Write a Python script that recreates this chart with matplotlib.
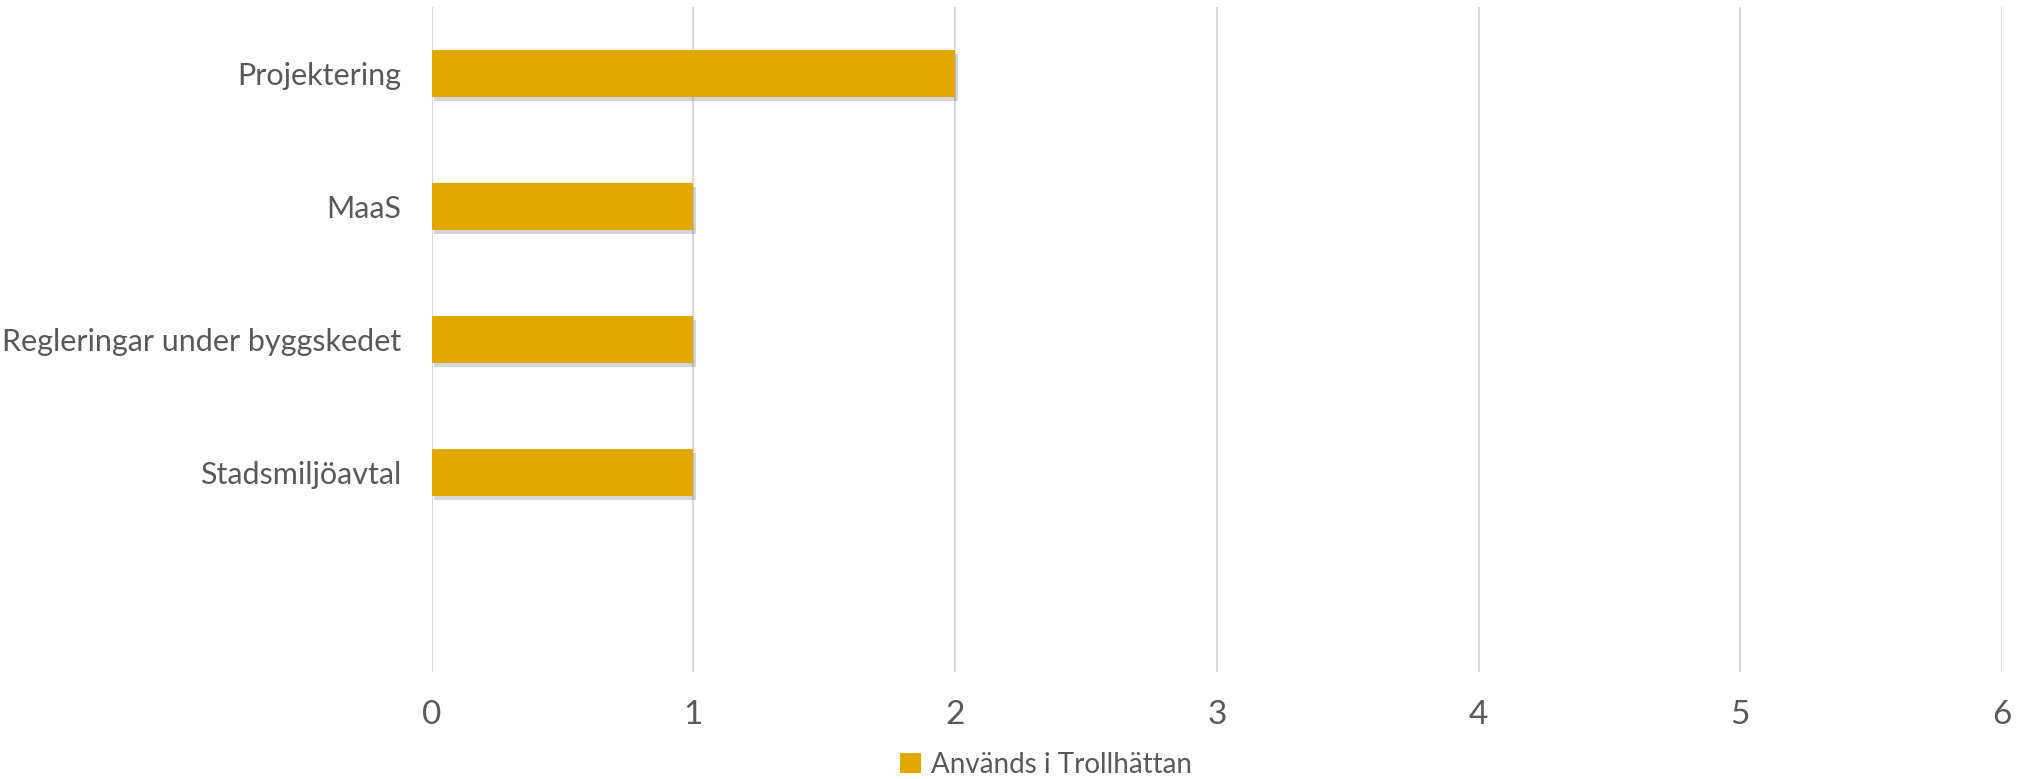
import matplotlib.pyplot as plt
import matplotlib.patheffects as pe
from matplotlib.patches import Patch
import numpy as np

# --- data ---
categories = ['Projektering', 'MaaS', 'Regleringar under byggskedet', 'Stadsmiljöavtal']
values = [2, 1, 1, 1]
series_name = 'Används i Trollhättan'
x_ticks = [0, 1, 2, 3, 4, 5, 6]

BAR_COLOR = '#E2A800'
TEXT_COLOR = '#595959'
GRID_COLOR = '#D9D9D9'

plt.rcParams['font.family'] = ['Lato', 'DejaVu Sans']

fig = plt.figure(figsize=(20.23, 7.79), dpi=100)
ax = fig.add_axes([0.2134, 0.1373, 0.7762, 0.8537])

y = np.arange(len(categories))
bars = ax.barh(y, values, height=0.35, color=BAR_COLOR, zorder=3)
for b in bars:
    b.set_path_effects([pe.SimplePatchShadow(offset=(2, -3), alpha=0.22, shadow_rgbFace='#404040'),
                        pe.Normal()])

# пустой пятый слот внизу, как в оригинале
ax.set_ylim(len(categories) + 0.5, -0.5)
ax.set_yticks(y)
ax.set_yticklabels(categories)
ax.set_xlim(0, 6)
ax.set_xticks(x_ticks)

ax.grid(True, axis='x', color=GRID_COLOR, linewidth=1.5, zorder=0)
ax.set_axisbelow(True)
for s in ax.spines.values():
    s.set_visible(False)
ax.tick_params(axis='both', length=0, colors=TEXT_COLOR, labelsize=22)
ax.tick_params(axis='y', pad=22)
ax.tick_params(axis='x', pad=20)
for t in ax.get_xticklabels():
    t.set_fontsize(24)

# легенда без тени у маркера
handle = Patch(facecolor=BAR_COLOR, edgecolor='none')
fig.legend(handles=[handle], labels=[series_name], loc='center',
           bbox_to_anchor=(0.517, 0.018), frameon=False, fontsize=20,
           labelcolor=TEXT_COLOR, handlelength=0.75, handleheight=0.75,
           handletextpad=0.35)

fig.savefig('out.png', dpi=100)
